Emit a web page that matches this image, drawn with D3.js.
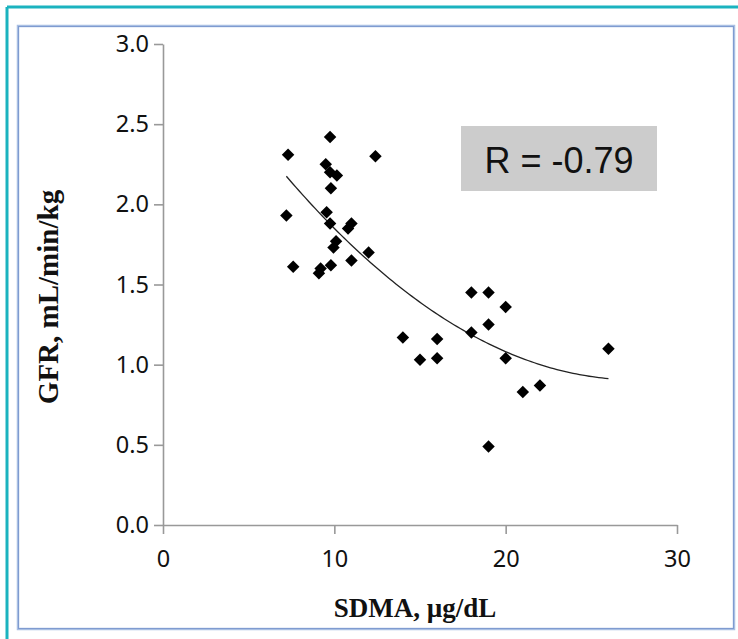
<!DOCTYPE html>
<html>
<head>
<meta charset="utf-8">
<script src="https://cdn.jsdelivr.net/npm/d3@7/dist/d3.min.js"></script>
<style>
  html, body { margin: 0; padding: 0; background: #fff; }
  svg { display: block; }
</style>
</head>
<body>
<svg id="chart" width="738" height="639"></svg>
<script>
// SDMA (µg/dL) against GFR (mL/min/kg), one entry per animal
const sdma = [7.3, 7.2, 7.6, 9.75, 9.5, 9.75, 10.15, 9.8, 9.55, 9.75, 10.1, 9.95, 9.8, 9.2, 9.1,
              11.0, 10.8, 11.0, 12.0, 12.4, 14.0, 15.0, 16.0, 16.0, 18.0, 19.0, 18.0, 19.0,
              20.0, 20.0, 21.0, 22.0, 19.0, 26.0];
const gfr  = [2.31, 1.93, 1.61, 2.42, 2.25, 2.20, 2.18, 2.10, 1.95, 1.88, 1.77, 1.73, 1.62, 1.60, 1.57,
              1.88, 1.85, 1.65, 1.70, 2.30, 1.17, 1.03, 1.16, 1.04, 1.45, 1.45, 1.20, 1.25,
              1.36, 1.04, 0.83, 0.87, 0.49, 1.10];
const xTicks = [0, 10, 20, 30];
const yTicks = [0, 0.5, 1.0, 1.5, 2.0, 2.5, 3.0];
const rLabel = "R = -0.79";

const svg = d3.select("#chart");
const W = 738, H = 639;

// page frame: teal rule and inner light-blue box
svg.append("line").attr("x1", 7).attr("y1", 7).attr("x2", W + 5).attr("y2", 7)
  .attr("stroke", "#1bb3bf").attr("stroke-width", 3);
svg.append("line").attr("x1", 7).attr("y1", 7).attr("x2", 7).attr("y2", H + 5)
  .attr("stroke", "#1bb3bf").attr("stroke-width", 3);
svg.append("rect").attr("x", 18).attr("y", 26).attr("width", 716).attr("height", 603)
  .attr("fill", "#fff").attr("stroke", "#a9bfe3").attr("stroke-width", 2.5);
svg.append("rect").attr("x", 18.5).attr("y", 26.5).attr("width", 715).attr("height", 602)
  .attr("fill", "none").attr("stroke", "#7f9bd0").attr("stroke-width", 1);

const x = d3.scaleLinear().domain([0, 30]).range([163, 677]);
const y = d3.scaleLinear().domain([0, 3]).range([525, 44]);

const axisColor = "#999";

// y axis
const gy = svg.append("g").attr("transform", `translate(${x(0)},0)`)
  .call(d3.axisLeft(y).tickValues(yTicks).tickFormat(d3.format(".1f")).tickSize(9).tickSizeOuter(0).tickPadding(5));
// x axis
const gx = svg.append("g").attr("transform", `translate(0,${y(0)})`)
  .call(d3.axisBottom(x).tickValues(xTicks).tickFormat(d3.format("d")).tickSize(9).tickSizeOuter(0).tickPadding(16));

[gx, gy].forEach(g => {
  g.select(".domain").attr("stroke", axisColor).attr("stroke-width", 1.6);
  g.selectAll(".tick line").attr("stroke", axisColor).attr("stroke-width", 1.6);
  g.selectAll(".tick text").attr("fill", "#111")
    .style("font-family", "'Noto Sans', 'Open Sans', sans-serif").style("font-size", "23.5px");
});

// quadratic least-squares trend of GFR on SDMA
function quadFit(xs, ys) {
  const n = xs.length;
  let s = [0, 0, 0, 0, 0], t = [0, 0, 0];
  for (let i = 0; i < n; i++) {
    const xv = xs[i], yv = ys[i];
    for (let k = 0; k <= 4; k++) s[k] += Math.pow(xv, k);
    for (let k = 0; k <= 2; k++) t[k] += yv * Math.pow(xv, k);
  }
  const A = [[s[0], s[1], s[2], t[0]], [s[1], s[2], s[3], t[1]], [s[2], s[3], s[4], t[2]]];
  for (let c = 0; c < 3; c++) {
    let p = c;
    for (let r = c + 1; r < 3; r++) if (Math.abs(A[r][c]) > Math.abs(A[p][c])) p = r;
    [A[c], A[p]] = [A[p], A[c]];
    for (let r = 0; r < 3; r++) {
      if (r === c) continue;
      const f = A[r][c] / A[c][c];
      for (let k = c; k < 4; k++) A[r][k] -= f * A[c][k];
    }
  }
  return [A[0][3] / A[0][0], A[1][3] / A[1][1], A[2][3] / A[2][2]];
}
const coef = quadFit(sdma, gfr);
const x0 = d3.min(sdma), x1 = d3.max(sdma);
const trend = d3.range(0, 101).map(i => {
  const xv = x0 + (x1 - x0) * i / 100;
  return [xv, coef[0] + coef[1] * xv + coef[2] * xv * xv];
});
svg.append("path").datum(trend)
  .attr("d", d3.line().x(d => x(d[0])).y(d => y(d[1])))
  .attr("fill", "none").attr("stroke", "#222").attr("stroke-width", 1.3);

// points as black diamonds
const diamond = d3.symbol().type(d3.symbolSquare).size(78);
svg.append("g").selectAll("path").data(sdma.map((v, i) => [v, gfr[i]])).join("path")
  .attr("d", diamond)
  .attr("transform", d => `translate(${x(d[0])},${y(d[1])}) rotate(45)`)
  .attr("fill", "#000");

// correlation box
svg.append("rect").attr("x", 461).attr("y", 126).attr("width", 196).attr("height", 65).attr("fill", "#cccccc");
svg.append("text").attr("x", 559).attr("y", 173).attr("text-anchor", "middle")
  .style("font-family", "'Liberation Sans', Arial, sans-serif").style("font-size", "36px")
  .attr("fill", "#111").text(rLabel);

// axis titles
svg.append("text").attr("x", 415).attr("y", 617).attr("text-anchor", "middle")
  .style("font-family", "'Liberation Serif', 'Times New Roman', serif").style("font-weight", "bold")
  .style("font-size", "27px").attr("fill", "#111").text("SDMA, µg/dL");
svg.append("text").attr("transform", "translate(58,297) rotate(-90)").attr("text-anchor", "middle")
  .style("font-family", "'Liberation Serif', 'Times New Roman', serif").style("font-weight", "bold")
  .style("font-size", "29px").attr("fill", "#111").text("GFR, mL/min/kg");
</script>
</body>
</html>
